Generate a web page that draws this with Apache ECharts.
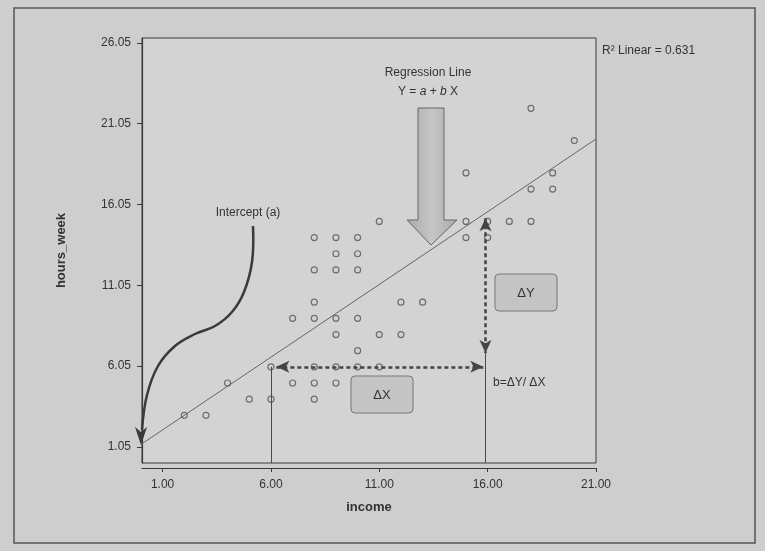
<!DOCTYPE html>
<html>
<head>
<meta charset="utf-8">
<script src="https://cdn.jsdelivr.net/npm/echarts@6.0.0/dist/echarts.min.js"></script>
<style>
  html, body { margin: 0; padding: 0; background: #cecece; }
  #chart { width: 765px; height: 551px; }
</style>
</head>
<body>
<div id="chart"></div>
<script>
// scatter data
let incomeX = [2, 3, 4, 5, 6, 6, 7, 8, 9, 8, 8, 9, 10, 11, 10, 7, 8, 9, 10, 9, 11, 12, 8, 12, 13,
    8, 9, 10, 9, 10, 8, 9, 10, 11, 15, 15, 16, 16, 17, 18, 15, 18, 19, 19, 18, 20]
let hoursY = [3, 3, 5, 4, 4, 6, 5, 5, 5, 4, 6, 6, 6, 6, 7, 9, 9, 9, 9, 8, 8, 8, 10, 10, 10,
    12, 12, 12, 13, 13, 14, 14, 14, 15, 15, 14, 15, 14, 15, 15, 18, 17, 17, 18, 22, 20]

// axes
let xTicks = [1, 6, 11, 16, 21]
let yTicks = [1.05, 6.05, 11.05, 16.05, 21.05, 26.05]
let xRange = [0.05, 21]
let yRange = [0.05, 26.35]

// fitted line  Y = a + bX
let intercept = 1.2
let slope = 0.9
let rSquared = 0.631

// delta X / delta Y guides
let deltaXLine = [[6.25, 6], [15.8, 6]]
let deltaYLine = [[15.9, 15.2], [15.9, 6.86]]
let dropLines = [[[6, 6], [6, 0.05]], [[15.9, 6.86], [15.9, 0.05]]]

let font = '"Liberation Sans", Arial, sans-serif'
let ink = '#333'

let points = incomeX.map(function(x, i) { return [x, hoursY[i]] })
let fitLine = xRange.map(function(x) { return [x, intercept + slope * x] })

let chart = echarts.init(document.getElementById('chart'))

let option = {
    backgroundColor: '#cecece',
    animation: false,
    textStyle: { fontFamily: font },
    grid: {
        left: 142, right: 169, top: 38, bottom: 88,
        show: true,
        backgroundColor: '#d3d3d3',
        borderColor: '#3a3a3a',
        borderWidth: 1
    },
    xAxis: {
        type: 'value',
        min: xRange[0],
        max: xRange[1],
        offset: 5,
        name: 'income',
        nameLocation: 'middle',
        nameGap: 33,
        nameTextStyle: { color: ink, fontSize: 13, fontWeight: 'bold', fontFamily: font },
        axisLine: { show: true, lineStyle: { color: '#3a3a3a', width: 1.2 } },
        axisTick: { show: true, length: 4, customValues: xTicks, lineStyle: { color: '#3a3a3a' } },
        axisLabel: {
            customValues: xTicks,
            margin: 11,
            color: ink,
            fontSize: 12,
            fontFamily: font,
            formatter: function(v) { return v.toFixed(2) }
        },
        splitLine: { show: false }
    },
    yAxis: {
        type: 'value',
        min: yRange[0],
        max: yRange[1],
        name: 'hours_week',
        nameLocation: 'middle',
        nameGap: 74,
        nameRotate: 90,
        nameTextStyle: { color: ink, fontSize: 13, fontWeight: 'bold', fontFamily: font },
        axisLine: { show: true, lineStyle: { color: '#3a3a3a', width: 1.2 } },
        axisTick: { show: true, length: 5, customValues: yTicks, lineStyle: { color: '#3a3a3a' } },
        axisLabel: {
            customValues: yTicks,
            margin: 11,
            color: ink,
            fontSize: 12,
            fontFamily: font,
            formatter: function(v) { return v.toFixed(2) }
        },
        splitLine: { show: false }
    },
    series: [
        {
            type: 'line',
            data: fitLine,
            showSymbol: false,
            silent: true,
            z: 2,
            lineStyle: { color: '#666', width: 1 },
            markLine: {
                silent: true,
                symbol: 'none',
                label: { show: false },
                lineStyle: { color: '#4a4a4a', width: 1, type: 'solid' },
                data: dropLines.map(function(l) {
                    return [{ coord: l[0] }, { coord: l[1] }]
                })
            }
        },
        {
            type: 'scatter',
            data: points,
            symbol: 'circle',
            symbolSize: 6,
            z: 3,
            itemStyle: { color: 'rgba(0,0,0,0)', borderColor: '#555', borderWidth: 1.2 },
            markLine: {
                silent: true,
                symbol: ['arrow', 'arrow'],
                symbolSize: [9, 13],
                label: { show: false },
                lineStyle: { color: '#444', width: 2.5, type: [4, 3] },
                data: [
                    [{ coord: deltaXLine[0] }, { coord: deltaXLine[1] }],
                    [{ coord: deltaYLine[0] }, { coord: deltaYLine[1] }]
                ]
            }
        }
    ],
    graphic: [
        // outer frame of the figure
        {
            type: 'rect', silent: true, z: 0,
            shape: { x: 14, y: 8, width: 741, height: 535 },
            style: { fill: 'none', stroke: '#555', lineWidth: 1.5 }
        },
        {
            type: 'text', left: 602, top: 45,
            style: { text: 'R\u00b2 Linear = ' + rSquared, font: '12px ' + font, fill: ink }
        },
        // regression line callout
        {
            type: 'text', x: 428, y: 73,
            style: { text: 'Regression Line', font: '12px ' + font, fill: ink, align: 'center', verticalAlign: 'middle' }
        },
        {
            type: 'text', x: 428, y: 92,
            style: {
                text: 'Y = {i|a} + {i|b} X', font: '12px ' + font, fill: ink, align: 'center', verticalAlign: 'middle',
                rich: { i: { fontStyle: 'italic', fontSize: 12, fontFamily: font, fill: ink } }
            }
        },
        {
            type: 'polygon', silent: true, z: 10,
            shape: { points: [[418, 108], [444, 108], [444, 220], [457, 220], [431, 245], [407, 220], [418, 220]] },
            style: {
                fill: new echarts.graphic.LinearGradient(0, 0, 1, 0, [
                    { offset: 0, color: '#a9a9a9' },
                    { offset: 0.5, color: '#c6c6c6' },
                    { offset: 1, color: '#a9a9a9' }
                ]),
                stroke: '#666', lineWidth: 1
            }
        },
        // intercept callout
        {
            type: 'text', x: 248, y: 213,
            style: { text: 'Intercept (a)', font: '12px ' + font, fill: ink, align: 'center', verticalAlign: 'middle' }
        },
        {
            type: 'polyline', silent: true, z: 10,
            shape: {
                points: [[253, 226], [252, 262], [244, 292], [232, 312], [215, 326], [195, 334], [175, 346], [158, 366], [147, 395], [142, 430]],
                smooth: 0.4
            },
            style: { stroke: '#3a3a3a', lineWidth: 2.5, fill: 'none' }
        },
        {
            type: 'polygon', silent: true, z: 10,
            shape: { points: [[141, 445], [135, 427], [141, 432], [147, 427]] },
            style: { fill: '#3a3a3a' }
        },
        // delta boxes
        {
            type: 'rect', z: 10,
            shape: { x: 351, y: 376, width: 62, height: 37, r: 4 },
            style: { fill: '#c4c4c4', stroke: '#777', lineWidth: 1 }
        },
        {
            type: 'text', x: 382, y: 395, z: 11,
            style: { text: '\u0394X', font: '13px ' + font, fill: ink, align: 'center', verticalAlign: 'middle' }
        },
        {
            type: 'rect', z: 10,
            shape: { x: 495, y: 274, width: 62, height: 37, r: 4 },
            style: { fill: '#c4c4c4', stroke: '#777', lineWidth: 1 }
        },
        {
            type: 'text', x: 526, y: 293, z: 11,
            style: { text: '\u0394Y', font: '13px ' + font, fill: ink, align: 'center', verticalAlign: 'middle' }
        },
        {
            type: 'text', x: 493, y: 383,
            style: { text: 'b=\u0394Y/ \u0394X', font: '12px ' + font, fill: ink, verticalAlign: 'middle' }
        }
    ]
}

chart.setOption(option)
</script>
</body>
</html>
